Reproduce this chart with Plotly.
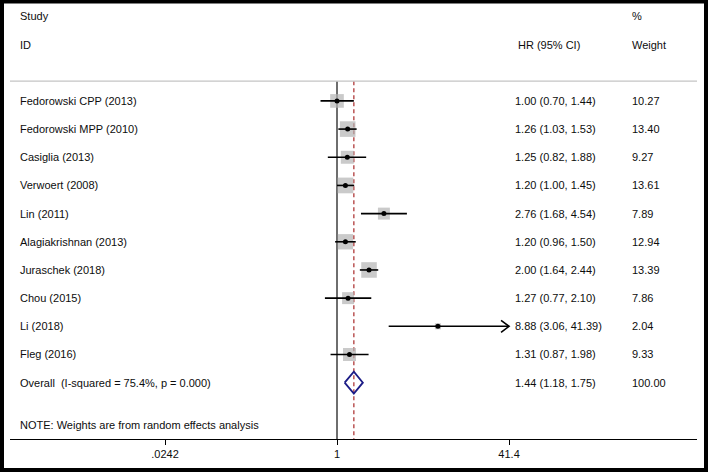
import plotly.graph_objects as go
import math

# ---------------- data ----------------
studies = ["Fedorowski CPP (2013)", "Fedorowski MPP (2010)", "Casiglia (2013)",
           "Verwoert (2008)", "Lin (2011)", "Alagiakrishnan (2013)",
           "Juraschek (2018)", "Chou (2015)", "Li (2018)", "Fleg (2016)"]
hr = [1.00, 1.26, 1.25, 1.20, 2.76, 1.20, 2.00, 1.27, 8.88, 1.31]
ci_lo = [0.70, 1.03, 0.82, 1.00, 1.68, 0.96, 1.64, 0.77, 3.06, 0.87]
ci_hi = [1.44, 1.53, 1.88, 1.45, 4.54, 1.50, 2.44, 2.10, 41.39, 1.98]
weights = [10.27, 13.40, 9.27, 13.61, 7.89, 12.94, 13.39, 7.86, 2.04, 9.33]

overall_label = "Overall\u00a0 (I-squared = 75.4%, p = 0.000)"
overall_hr = 1.44
overall_lo = 1.18
overall_hi = 1.75
overall_weight = 100.00

note_text = "NOTE: Weights are from random effects analysis"
tick_vals = [0.0242, 1, 41.4]
tick_text = [".0242", "1", "41.4"]

# ---------------- layout constants ----------------
W, H = 709, 472
ML, MR, MT, MB = 10, 12, 4, 33
PX_PER_DEC = 106.4
X_ZERO_PX = 337
plot_w = W - ML - MR
x_range = [-(X_ZERO_PX - ML) / PX_PER_DEC, (W - MR - X_ZERO_PX) / PX_PER_DEC]
y_range = [13, -2.44]
row_px = (H - MT - MB) / (y_range[0] - y_range[1])

FONT = "Liberation Sans, Arial, sans-serif"
TXT = "#0d0d0d"

n = len(studies)
rows = list(range(1, n + 1))
overall_row = n + 1
header_line_row = 0.3
xmax = tick_vals[-1]
xmin = tick_vals[0]

fig = go.Figure()

# null line at 1 and dashed overall line
fig.add_trace(go.Scatter(x=[1, 1], y=[header_line_row, y_range[0]], mode="lines",
                         line=dict(color="#4a4a4a", width=1.6), hoverinfo="skip"))
fig.add_trace(go.Scatter(x=[overall_hr, overall_hr], y=[header_line_row, y_range[0]], mode="lines",
                         line=dict(color="#b03a3a", width=1.3, dash="4px,3px"), hoverinfo="skip"))

# weight boxes
box_sizes = [4.26 * math.sqrt(w) for w in weights]
fig.add_trace(go.Scatter(x=hr, y=rows, mode="markers",
                         marker=dict(symbol="square", size=box_sizes, color="#b4b4b4",
                                     line=dict(width=0)), hoverinfo="skip"))

# CI lines (clipped to axis limits)
cx, cy = [], []
for lo, hi, r in zip(ci_lo, ci_hi, rows):
    cx += [max(lo, xmin), min(hi, xmax), None]
    cy += [r, r, None]
fig.add_trace(go.Scatter(x=cx, y=cy, mode="lines", line=dict(color="black", width=1.6),
                         hoverinfo="skip"))

# arrows for clipped CIs
ax_, ay_ = [], []
arm_f = 10 ** (8 / PX_PER_DEC)
arm_h = 6 / row_px
for hi, r in zip(ci_hi, rows):
    if hi >= xmax * 0.999:
        ax_ += [xmax / arm_f, xmax, xmax / arm_f, None]
        ay_ += [r - arm_h, r, r + arm_h, None]
fig.add_trace(go.Scatter(x=ax_, y=ay_, mode="lines", line=dict(color="black", width=1.6),
                         hoverinfo="skip"))

# point estimates
fig.add_trace(go.Scatter(x=hr, y=rows, mode="markers",
                         marker=dict(symbol="circle", size=5, color="black"), hoverinfo="skip"))

# overall diamond
dh = 11 / row_px
fig.add_trace(go.Scatter(
    x=[overall_lo, overall_hr, overall_hi, overall_hr, overall_lo],
    y=[overall_row, overall_row - dh, overall_row, overall_row + dh, overall_row],
    mode="lines", line=dict(color="#1c1c86", width=1.8), hoverinfo="skip"))

# ---------------- text ----------------
def px2paper(px):
    return (px - ML) / plot_w

X_STUDY = px2paper(18)
X_HR = px2paper(513)
X_HRHEAD = px2paper(516)
X_W = px2paper(630)

ann = []
def t(x, y, s):
    ann.append(dict(x=x, y=y, xref="paper", yref="y", text=s, showarrow=False,
                    xanchor="left", yanchor="middle", font=dict(family=FONT, size=11, color=TXT)))

t(X_STUDY, -2, "Study")
t(X_STUDY, -1, "ID")
t(X_HRHEAD, -1, "HR (95% CI)")
t(X_W, -2, "%")
t(X_W, -1, "Weight")
for s, h, lo, hi, w, r in zip(studies, hr, ci_lo, ci_hi, weights, rows):
    t(X_STUDY, r, s)
    t(X_HR, r, f"{h:.2f} ({lo:.2f}, {hi:.2f})")
    t(X_W, r, f"{w:.2f}")
t(X_STUDY, overall_row, overall_label)
t(X_HR, overall_row, f"{overall_hr:.2f} ({overall_lo:.2f}, {overall_hi:.2f})")
t(X_W, overall_row, f"{overall_weight:.2f}")
t(X_STUDY, 12.5, note_text)

shapes = [
    dict(type="line", xref="paper", yref="y", x0=0, x1=1, y0=header_line_row, y1=header_line_row,
         line=dict(color="#c4c4c4", width=1.2)),
]
plot_h = H - MT - MB
def py2paper(py):
    return (H - MB - py) / plot_h
shapes.append(dict(type="rect", xref="paper", yref="paper",
                   x0=px2paper(2), x1=px2paper(706), y0=py2paper(470), y1=py2paper(1.5),
                   line=dict(color="black", width=4), fillcolor="rgba(0,0,0,0)", layer="above"))

fig.update_layout(
    width=W, height=H, margin=dict(l=ML, r=MR, t=MT, b=MB),
    paper_bgcolor="white", plot_bgcolor="white", showlegend=False,
    annotations=ann, shapes=shapes,
    xaxis=dict(type="log", range=x_range, tickvals=tick_vals, ticktext=tick_text,
               showgrid=False, zeroline=False, showline=True, linecolor="black", linewidth=1.4,
               ticks="outside", ticklen=5, tickwidth=1.2, tickcolor="black",
               tickfont=dict(family=FONT, size=11, color=TXT), fixedrange=True),
    yaxis=dict(range=y_range, showgrid=False, zeroline=False, showticklabels=False,
               showline=False, fixedrange=True),
)

fig.write_html("out.html", config={"displayModeBar": False},
               post_script="document.body.style.margin='0';document.body.style.padding='0';")
